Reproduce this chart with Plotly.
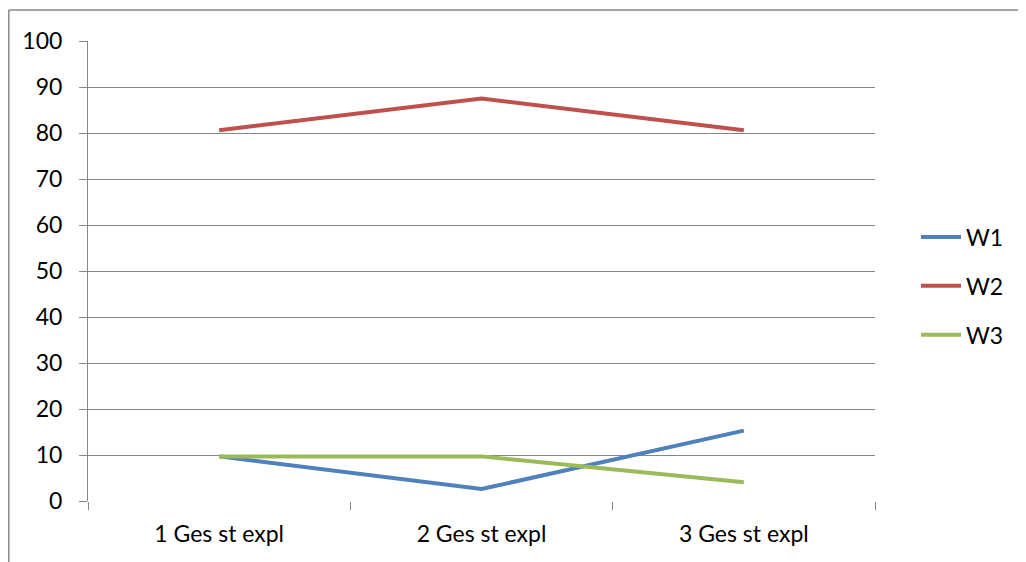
import plotly.graph_objects as go

categories = ["1 Ges st expl", "2 Ges st expl", "3 Ges st expl"]
w1 = [9.7, 2.6, 15.3]
w2 = [80.6, 87.5, 80.6]
w3 = [9.7, 9.7, 4.1]
series = [("W1", w1, "#4F81BD"), ("W2", w2, "#C0504D"), ("W3", w3, "#9BBB59")]

fig = go.Figure()
for name, vals, col in series:
    fig.add_trace(go.Scatter(x=categories, y=vals, name=name, mode="lines",
                             line=dict(color=col, width=4), legendgroup=name))

# page has 8px body margin -> compensate
OFF = 8
W, H = 1026 - OFF, 562 - OFF
L, T = 88 - OFF, 41 - OFF
R = W - (875 - OFF)
B = H - (501 - OFF)
pw, ph = W - L - R, H - T - B

def px_x(p):
    return (p - 88) / pw

def px_y(p):
    return (501 - p) / ph

border = dict(color="#898989", width=1.5)
fig.update_layout(
    width=W, height=H,
    margin=dict(l=L, r=R, t=T, b=B, pad=0),
    paper_bgcolor="white", plot_bgcolor="white",
    font=dict(family="Lato, Open Sans, sans-serif", size=23, color="#000000"),
    showlegend=True,
    legend=dict(x=px_x(916), y=px_y(286), xanchor="left", yanchor="middle",
                tracegroupgap=16, font=dict(size=23), itemwidth=40),
    xaxis=dict(tickson="boundaries", ticks="outside", ticklen=8, tickcolor="#868686",
               showline=False, showgrid=False, zeroline=False, range=[-0.5, 2.5],
               ticklabelstandoff=17),
    yaxis=dict(range=[0, 100], dtick=10, showgrid=True, gridcolor="#868686", gridwidth=1,
               ticks="outside", ticklen=8, tickcolor="#868686", showline=True,
               linecolor="#868686", linewidth=1, zeroline=False, ticklabelstandoff=12),
    shapes=[
        dict(type="line", xref="paper", yref="paper",
             x0=px_x(8.8), x1=px_x(1026), y0=px_y(10), y1=px_y(10), line=border),
        dict(type="line", xref="paper", yref="paper",
             x0=px_x(8.8), x1=px_x(8.8), y0=px_y(10), y1=px_y(562), line=border),
    ],
)
fig.write_html("out.html")
